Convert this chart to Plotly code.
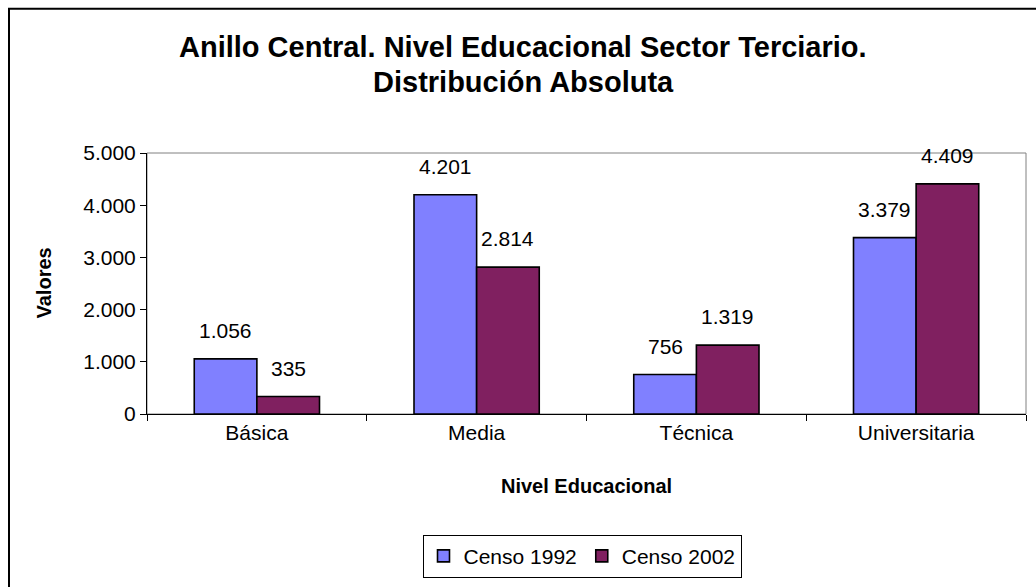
import plotly.graph_objects as go

categories = ["Básica", "Media", "Técnica", "Universitaria"]
censo_1992 = [1056, 4201, 756, 3379]
censo_2002 = [335, 2814, 1319, 4409]
series_names = ["Censo 1992", "Censo 2002"]
y_ticks = [0, 1000, 2000, 3000, 4000, 5000]

W, H = 1036, 587
L, R, T, B = 147, 10, 153, 166
pw, ph = W - L - R, H - T - B
BARGAP = 0.43

def px_x(x):
    return (x - L) / pw

def px_y(y):
    return 1 - (y - T) / ph

FONT = "Liberation Sans, Arial, sans-serif"
FS = 21

# half of one bar's pixel width, derived from the category band and bargap
bar_px = pw / len(categories) * (1 - BARGAP) / 2
offsets = [-bar_px / 2, bar_px / 2]

fig = go.Figure()
annotations = []
for name, vals, color, off in [(series_names[0], censo_1992, "#8080FF", offsets[0]),
                               (series_names[1], censo_2002, "#802060", offsets[1])]:
    fig.add_trace(go.Bar(
        name=name, x=categories, y=vals,
        marker=dict(color=color, line=dict(color="black", width=1.6)),
    ))
    for c, v in zip(categories, vals):
        annotations.append(dict(
            x=c, y=v, xref="x", yref="y", text=f"{v:,}".replace(",", "."),
            showarrow=False, xshift=off, yanchor="bottom", yshift=15,
            font=dict(size=FS, color="black"),
        ))

annotations += [
    dict(text="<b>Anillo Central. Nivel Educacional Sector Terciario.</b>", xref="paper", yref="paper",
         x=px_x(523), y=px_y(44), showarrow=False, font=dict(size=29), xanchor="center", yanchor="middle"),
    dict(text="<b>Distribución Absoluta</b>", xref="paper", yref="paper",
         x=px_x(523), y=px_y(80), showarrow=False, font=dict(size=29), xanchor="center", yanchor="middle"),
    dict(text="<b>Valores</b>", xref="paper", yref="paper", x=px_x(43), y=px_y(287),
         showarrow=False, textangle=-90, font=dict(size=20), xanchor="center", yanchor="middle"),
    dict(text="<b>Nivel Educacional</b>", xref="paper", yref="paper", x=0.5, y=px_y(495),
         showarrow=False, font=dict(size=20), xanchor="center", yanchor="middle"),
]

fig.update_layout(
    width=W, height=H,
    margin=dict(l=L, r=R, t=T, b=B),
    paper_bgcolor="white", plot_bgcolor="white",
    separators=",.",
    barmode="group", bargap=BARGAP, bargroupgap=0,
    font=dict(family=FONT, size=FS, color="black"),
    showlegend=True,
    legend=dict(orientation="h", x=px_x(582), y=px_y(567), xanchor="center", yanchor="middle",
                bordercolor="black", borderwidth=1, font=dict(size=FS),
                itemwidth=30, traceorder="normal"),
    xaxis=dict(showline=True, linecolor="black", linewidth=1, ticks="outside",
               tickson="boundaries", ticklen=6, tickcolor="black", showgrid=False,
               tickfont=dict(size=FS)),
    yaxis=dict(range=[0, 5000], tickvals=y_ticks, tickformat=",d", showline=True,
               linecolor="black", linewidth=1, ticks="outside", ticklen=6,
               tickcolor="black", showgrid=False, zeroline=False, tickfont=dict(size=FS)),
    shapes=[
        dict(type="rect", xref="x domain", yref="y domain", x0=0, x1=1, y0=0, y1=1,
             line=dict(color="#808080", width=1), layer="below"),
        dict(type="rect", xref="paper", yref="paper", x0=px_x(9), x1=px_x(1045),
             y0=px_y(5), y1=px_y(600), line=dict(color="black", width=2)),
    ],
    annotations=annotations,
)

fig.write_html("out.html", config={"displayModeBar": False},
               post_script="document.body.style.margin='0';")
